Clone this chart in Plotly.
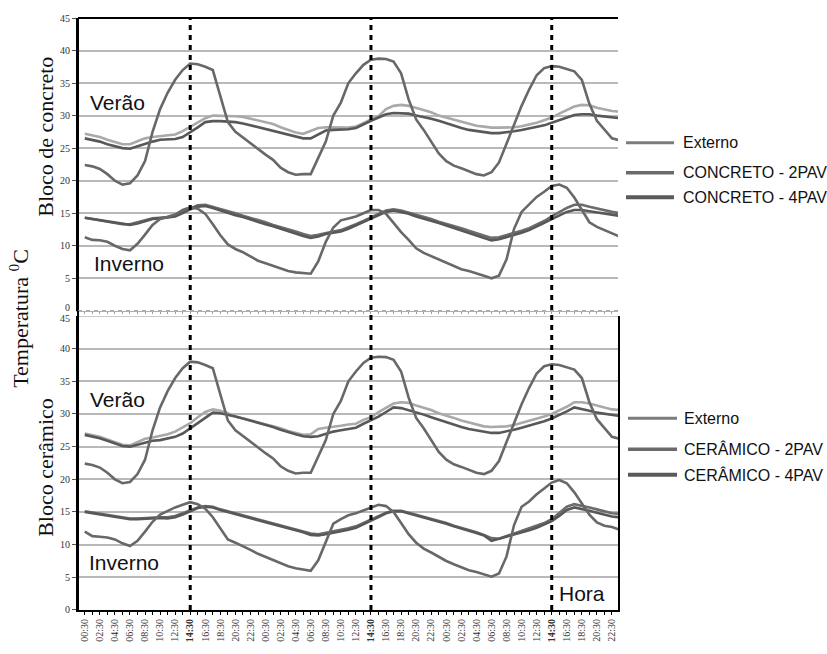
import plotly.graph_objects as go

# ---------------- data ----------------
HOUR_LABELS = ["00:30", "01:30", "02:30", "03:30", "04:30", "05:30", "06:30", "07:30",
               "08:30", "09:30", "10:30", "11:30", "12:30", "13:30", "14:30", "15:30",
               "16:30", "17:30", "18:30", "19:30", "20:30", "21:30", "22:30", "23:30"]
N_DAYS = 3
MARK_HOUR = "14:30"

# Bloco de concreto - Verão
ext_verao = [22.4, 22.2, 21.8, 21.0, 20.0, 19.4, 19.6, 20.8, 23.0, 27.5, 31.0, 33.5,
             35.5, 37.0, 38.0, 37.9, 37.5, 37.0, 33.0, 29.0, 27.5, 26.6, 25.8, 24.8,
             24.0, 23.2, 22.0, 21.3, 20.9, 21.0, 21.0, 23.5, 26.0, 30.0, 32.0, 35.0,
             36.5, 37.8, 38.6, 38.75, 38.7, 38.3, 36.5, 32.5, 29.4, 27.8, 26.0, 24.2,
             23.0, 22.3, 21.9, 21.5, 21.0, 20.8, 21.3, 22.8, 25.8, 28.5, 31.5, 34.0,
             36.2, 37.3, 37.6, 37.5, 37.2, 36.8, 35.5, 31.8, 29.2, 27.8, 26.5, 26.2]
conc2_verao = [27.2, 27.0, 26.7, 26.3, 25.9, 25.6, 25.6, 26.0, 26.5, 26.7, 26.8, 26.9,
               27.1, 27.6, 28.3, 29.0, 29.6, 30.0, 30.0, 30.0, 29.9, 29.8, 29.5, 29.3,
               29.0, 28.7, 28.2, 27.8, 27.4, 27.2, 27.6, 28.1, 28.2, 28.2, 28.1, 28.15,
               28.3, 28.9, 29.4, 29.9, 31.0, 31.5, 31.65, 31.5, 31.2, 30.9, 30.5, 30.0,
               29.7, 29.3, 29.0, 28.7, 28.45, 28.3, 28.15, 28.15, 28.15, 28.2, 28.35, 28.6,
               28.9, 29.3, 29.7, 30.3, 30.8, 31.4, 31.65, 31.6, 31.2, 30.9, 30.7, 30.6]
conc4_verao = [26.5, 26.3, 26.0, 25.6, 25.3, 25.0, 24.9, 25.3, 25.6, 26.0, 26.3, 26.3,
               26.4, 26.7, 27.4, 28.2, 29.0, 29.15, 29.15, 29.1, 29.0, 28.8, 28.5, 28.2,
               27.9, 27.6, 27.3, 27.0, 26.7, 26.5, 26.5, 27.1, 27.7, 27.8, 27.85, 27.9,
               28.1, 28.7, 29.2, 29.7, 30.2, 30.4, 30.4, 30.3, 30.0, 29.8, 29.5, 29.2,
               28.8, 28.4, 28.1, 27.8, 27.6, 27.4, 27.3, 27.3, 27.4, 27.6, 27.8, 28.0,
               28.2, 28.5, 28.9, 29.3, 29.7, 30.1, 30.2, 30.2, 30.0, 29.9, 29.7, 29.6]

# Bloco de concreto - Inverno
ext_inverno_c = [11.3, 10.9, 10.85, 10.6, 10.0, 9.5, 9.3, 10.3, 11.7, 13.2, 14.1, 14.4,
                 14.8, 15.5, 15.9, 15.7, 14.9, 13.3, 11.6, 10.2, 9.5, 9.0, 8.4, 7.7,
                 7.3, 6.9, 6.4, 6.1, 5.9, 5.75, 5.7, 7.6, 10.6, 12.8, 13.9, 14.2,
                 14.5, 15.0, 15.5, 15.5, 14.9, 13.5, 12.1, 10.9, 9.6, 8.9, 8.4, 7.9,
                 7.3, 6.9, 6.4, 6.1, 5.8, 5.4, 5.0, 5.4, 7.9, 12.6, 15.2, 16.3,
                 17.5, 18.3, 19.2, 19.4, 18.9, 17.4, 15.6, 13.6, 12.9, 12.4, 11.9, 11.4]
conc2_inverno = [14.3, 14.1, 13.9, 13.7, 13.5, 13.3, 13.3, 13.6, 13.9, 14.2, 14.3, 14.4,
                 14.7, 15.2, 15.8, 16.2, 16.3, 16.0, 15.7, 15.3, 15.0, 14.6, 14.3, 13.9,
                 13.6, 13.2, 12.9, 12.5, 12.2, 11.8, 11.5, 11.7, 12.0, 12.2, 12.4, 12.8,
                 13.3, 13.8, 14.4, 14.9, 15.4, 15.6, 15.4, 15.1, 14.8, 14.4, 14.1, 13.7,
                 13.4, 13.0, 12.7, 12.3, 11.9, 11.5, 11.2, 11.3, 11.6, 11.9, 12.3, 12.7,
                 13.2, 13.8, 14.5, 15.2, 15.8, 16.3, 16.3, 16.0, 15.7, 15.4, 15.2, 15.0]
conc4_inverno = [14.3, 14.1, 13.9, 13.7, 13.5, 13.3, 13.2, 13.4, 13.8, 14.1, 14.2, 14.3,
                 14.5, 15.0, 15.6, 16.0, 16.1, 15.8, 15.4, 15.1, 14.7, 14.4, 14.0, 13.7,
                 13.3, 13.0, 12.6, 12.3, 11.9, 11.5, 11.2, 11.4, 11.8, 12.0, 12.2, 12.6,
                 13.1, 13.6, 14.2, 14.7, 15.2, 15.4, 15.2, 14.9, 14.5, 14.2, 13.8, 13.5,
                 13.1, 12.7, 12.4, 12.0, 11.6, 11.2, 10.8, 11.0, 11.3, 11.6, 12.0, 12.4,
                 12.9, 13.5, 14.1, 14.7, 15.2, 15.5, 15.5, 15.3, 15.1, 14.9, 14.7, 14.6]

# Bloco cerâmico - Verão
cer2_verao = [27.0, 26.8, 26.5, 26.1, 25.7, 25.3, 25.2, 25.7, 26.2, 26.4, 26.6, 26.9,
              27.3, 27.9, 28.6, 29.5, 30.3, 30.7, 30.5, 30.1, 29.6, 29.3, 29.0, 28.8,
              28.5, 28.2, 27.8, 27.4, 27.1, 26.8, 26.9, 27.7, 27.9, 28.0, 28.2, 28.4,
              28.5, 29.1, 29.5, 30.3, 31.0, 31.6, 31.8, 31.7, 31.3, 31.0, 30.6, 30.1,
              29.8, 29.4, 29.0, 28.7, 28.4, 28.1, 28.0, 28.0, 28.1, 28.3, 28.6, 28.9,
              29.3, 29.6, 30.0, 30.5, 31.1, 31.8, 31.8, 31.6, 31.3, 31.0, 30.7, 30.6]
cer4_verao = [26.8, 26.6, 26.3, 25.9, 25.5, 25.1, 25.0, 25.3, 25.7, 25.9, 26.0, 26.2,
              26.5, 27.0, 27.8, 28.7, 29.5, 30.2, 30.1, 29.9, 29.6, 29.3, 29.0, 28.7,
              28.4, 28.0, 27.6, 27.2, 26.9, 26.6, 26.5, 26.6, 27.0, 27.3, 27.5, 27.7,
              27.9, 28.5, 29.0, 29.6, 30.3, 31.0, 30.9, 30.6, 30.2, 29.9, 29.5, 29.1,
              28.7, 28.4, 28.0, 27.7, 27.5, 27.2, 27.1, 27.1, 27.3, 27.6, 27.9, 28.2,
              28.5, 28.9, 29.3, 29.8, 30.4, 31.0, 30.8, 30.5, 30.2, 30.0, 29.8, 29.7]

# Bloco cerâmico - Inverno
ext_inverno_k = [12.0, 11.3, 11.2, 11.1, 10.8, 10.2, 9.8, 10.6, 12.0, 13.5, 14.6, 15.2,
                 15.7, 16.1, 16.5, 16.2, 15.5, 14.2, 12.4, 10.8, 10.3, 9.8, 9.2, 8.6,
                 8.1, 7.7, 7.1, 6.7, 6.4, 6.2, 6.0, 7.6, 10.5, 13.2, 13.9, 14.5,
                 14.8, 15.2, 15.6, 16.1, 15.9, 15.0, 13.3, 11.6, 10.3, 9.4, 8.8, 8.1,
                 7.5, 7.0, 6.5, 6.1, 5.8, 5.5, 5.1, 5.6, 8.2, 13.0, 15.8, 16.6,
                 17.7, 18.6, 19.5, 19.9, 19.4, 18.0, 16.3, 14.6, 13.4, 12.9, 12.7, 12.3]
cer2_inverno = [15.1, 14.9, 14.7, 14.5, 14.3, 14.1, 14.0, 14.0, 14.1, 14.2, 14.2, 14.2,
                14.4, 14.8, 15.3, 15.7, 15.9, 15.8, 15.4, 15.1, 14.8, 14.5, 14.2, 13.9,
                13.6, 13.3, 13.0, 12.7, 12.4, 12.0, 11.7, 11.6, 11.8, 12.0, 12.2, 12.5,
                12.8, 13.3, 13.8, 14.4, 14.9, 15.2, 15.2, 14.9, 14.6, 14.3, 14.0, 13.6,
                13.3, 12.9, 12.6, 12.2, 11.9, 11.5, 11.0, 10.9, 11.3, 11.6, 12.0, 12.4,
                12.8, 13.3, 13.9, 14.8, 15.8, 16.2, 16.0, 15.7, 15.4, 15.1, 14.8, 14.7]
cer4_inverno = [15.0, 14.8, 14.6, 14.4, 14.2, 14.0, 13.9, 13.9, 14.0, 14.1, 14.1, 14.0,
                14.2, 14.6, 15.1, 15.6, 15.8, 15.7, 15.3, 15.0, 14.7, 14.4, 14.1, 13.8,
                13.5, 13.2, 12.9, 12.6, 12.3, 11.9, 11.5, 11.4, 11.6, 11.8, 12.1, 12.3,
                12.6, 13.1, 13.6, 14.2, 14.8, 15.1, 15.1, 14.8, 14.5, 14.2, 13.9, 13.5,
                13.2, 12.8, 12.5, 12.1, 11.8, 11.4, 10.6, 10.9, 11.2, 11.5, 11.9, 12.2,
                12.6, 13.1, 13.6, 14.4, 15.3, 15.7, 15.5, 15.2, 14.9, 14.6, 14.3, 14.2]

LEGEND_TOP = ["Externo", "CONCRETO - 2PAV", "CONCRETO - 4PAV"]
LEGEND_BOT = ["Externo", "CERÂMICO - 2PAV", "CERÂMICO - 4PAV"]
Y_TICKS = [0, 5, 10, 15, 20, 25, 30, 35, 40, 45]

# ---------------- layout helpers ----------------
W, H = 827, 654
L, R, T, B = 78, 618, 16, 624


def px(xp):
    return (xp - L) / (R - L)


def py(yp):
    return (B - yp) / (B - T)


hours = [HOUR_LABELS[i % 24] for i in range(24 * N_DAYS)]
x_idx = list(range(len(hours)))
major_x = [i for i in x_idx if i % 2 == 0]
minor_x = [i for i in x_idx if i % 2 == 1]
major_text = ["<b>" + hours[i] + "</b>" if hours[i] == MARK_HOUR else hours[i] for i in major_x]
mark_x = [i for i, h in enumerate(hours) if h == MARK_HOUR]

y_lo, y_hi = Y_TICKS[0], Y_TICKS[-1]
top_ticks = Y_TICKS[1:]      # the shared "0" of the top panel is written separately
bot_ticks = Y_TICKS[:-1]     # the shared "45" of the bottom panel is written separately

C_EXT = "#686868"
C_LIGHT = "#a9a9a9"
C_DARK = "#585858"
C_MID = "#6c6c6c"
LW = 2.6
GRID = "#b9b9b9"

fig = go.Figure()


def add(y, color, name, xa, ya):
    fig.add_trace(go.Scatter(x=x_idx, y=y, mode="lines", name=name, showlegend=False,
                             line=dict(color=color, width=LW), xaxis=xa, yaxis=ya))


# top panel
add(conc2_verao, C_LIGHT, "CONCRETO - 2PAV (Verão)", "x", "y")
add(conc4_verao, C_DARK, "CONCRETO - 4PAV (Verão)", "x", "y")
add(ext_verao, C_EXT, "Externo (Verão)", "x", "y")
add(conc2_inverno, C_MID, "CONCRETO - 2PAV (Inverno)", "x", "y")
add(conc4_inverno, C_DARK, "CONCRETO - 4PAV (Inverno)", "x", "y")
add(ext_inverno_c, C_EXT, "Externo (Inverno)", "x", "y")
# bottom panel
add(cer2_verao, C_LIGHT, "CERÂMICO - 2PAV (Verão)", "x2", "y2")
add(cer4_verao, C_DARK, "CERÂMICO - 4PAV (Verão)", "x2", "y2")
add(ext_verao, C_EXT, "Externo (Verão)", "x2", "y2")
add(cer2_inverno, C_MID, "CERÂMICO - 2PAV (Inverno)", "x2", "y2")
add(cer4_inverno, C_DARK, "CERÂMICO - 4PAV (Inverno)", "x2", "y2")
add(ext_inverno_k, C_EXT, "Externo (Inverno)", "x2", "y2")

XR = [-0.9, 70.8]
top_dom = [py(316.7), 1]
bot_dom = [0, py(322)]

tickfont = dict(family="Liberation Serif", size=10, color="#333")
xfont = dict(family="Liberation Serif", size=10, color="#333")

yax = dict(range=[y_lo, y_hi], showgrid=True, gridcolor=GRID, gridwidth=1.5,
           zeroline=False, showline=True, linecolor="black", linewidth=2, ticks="outside",
           ticklen=4, tickcolor="#555", tickfont=tickfont, fixedrange=True)

fig.update_layout(
    width=W, height=H, margin=dict(l=L, r=W - R, t=T, b=H - B),
    paper_bgcolor="white", plot_bgcolor="white", showlegend=False,
    xaxis=dict(domain=[0, 1], range=XR, anchor="y", tickvals=x_idx, showticklabels=False,
               ticks="outside", ticklen=2, tickcolor="#9a9a9a", showline=True,
               linecolor="#b0b0b0", linewidth=1, showgrid=False, zeroline=False),
    yaxis=dict(domain=top_dom, anchor="x", tickvals=top_ticks, **yax),
    xaxis2=dict(domain=[0, 1], range=XR, anchor="y2", tickmode="array", tickvals=major_x,
                ticktext=major_text, tickangle=-90, tickfont=xfont, ticks="outside",
                ticklen=3, tickcolor="black",
                minor=dict(tickmode="array", tickvals=minor_x, ticks="outside", ticklen=3,
                           tickcolor="black", showgrid=False),
                showline=True, linecolor="black", linewidth=2, showgrid=False, zeroline=False),
    yaxis2=dict(domain=bot_dom, anchor="x2", mirror=True, tickvals=bot_ticks, **yax),
)

shapes = []
# frame lines
shapes.append(dict(type="line", xref="paper", yref="paper", x0=0, x1=1, y0=1, y1=1,
                   line=dict(color="black", width=2)))
shapes.append(dict(type="line", xref="paper", yref="paper", x0=0, x1=0, y0=0, y1=1,
                   line=dict(color="black", width=2)))
# top gridline of the bottom panel
shapes.append(dict(type="line", xref="paper", yref="y2", x0=0, x1=1, y0=y_hi, y1=y_hi,
                   line=dict(color=GRID, width=1.5), layer="below"))
# zero line of top panel (dashed look)
shapes.append(dict(type="line", xref="paper", yref="y", x0=0, x1=1, y0=y_lo, y1=y_lo,
                   line=dict(color="#8c8c8c", width=1.5, dash="4px,4px")))
# vertical 14:30 markers
for m in mark_x:
    shapes.append(dict(type="line", xref="x", yref="paper", x0=m, x1=m, y0=0, y1=1,
                       line=dict(color="black", width=3, dash="5px,5px"), layer="above"))

ann = []
# the two labels where the panels meet
ann.append(dict(text=str(y_lo), xref="paper", yref="paper", x=px(72), y=py(313),
                xanchor="right", yanchor="middle", showarrow=False, font=tickfont))
ann.append(dict(text=str(y_hi), xref="paper", yref="paper", x=px(72), y=py(325),
                xanchor="right", yanchor="middle", showarrow=False, font=tickfont))

# legend marks
leg_colors = ["#7c7c7c", "#6a6a6a", "#5a5a5a"]
leg_widths = [3, 3.5, 4]
top_y = [144, 175, 200]
bot_y = [427, 459, 485]
for k in range(3):
    shapes.append(dict(type="line", xref="paper", yref="paper", x0=px(626), x1=px(674),
                       y0=py(top_y[k]), y1=py(top_y[k]),
                       line=dict(color=leg_colors[k], width=leg_widths[k])))
    ann.append(dict(text=LEGEND_TOP[k], xref="paper", yref="paper", x=px(681), y=py(top_y[k]),
                    xanchor="left", yanchor="middle", showarrow=False,
                    font=dict(family="Liberation Sans", size=16, color="#111")))
    shapes.append(dict(type="line", xref="paper", yref="paper", x0=px(628), x1=px(677),
                       y0=py(bot_y[k]), y1=py(bot_y[k]),
                       line=dict(color=leg_colors[k], width=leg_widths[k])))
    ann.append(dict(text=LEGEND_BOT[k], xref="paper", yref="paper", x=px(682), y=py(bot_y[k]),
                    xanchor="left", yanchor="middle", showarrow=False,
                    font=dict(family="Liberation Sans", size=16, color="#111")))

lab_font = dict(family="Liberation Sans", size=21, color="#111")
for text, xp, yp in [("Verão", 117, 103), ("Inverno", 129, 268),
                     ("Verão", 117, 408), ("Inverno", 124, 575), ("Hora", 582, 607)]:
    ann.append(dict(text=text, xref="paper", yref="paper", x=px(xp), y=py(yp),
                    xanchor="center", yanchor="middle", showarrow=False, font=lab_font))

title_font = dict(family="Liberation Serif", size=22, color="#111")
for text, xp, yp in [("Bloco de concreto", 46, 138), ("Temperatura <sup>0</sup>C", 19, 325),
                     ("Bloco cerâmico", 46, 478)]:
    ann.append(dict(text=text, xref="paper", yref="paper", x=px(xp), y=py(yp),
                    xanchor="center", yanchor="middle", textangle=-90, showarrow=False,
                    font=title_font))

fig.update_layout(shapes=shapes, annotations=ann)
fig.write_html("out.html")
